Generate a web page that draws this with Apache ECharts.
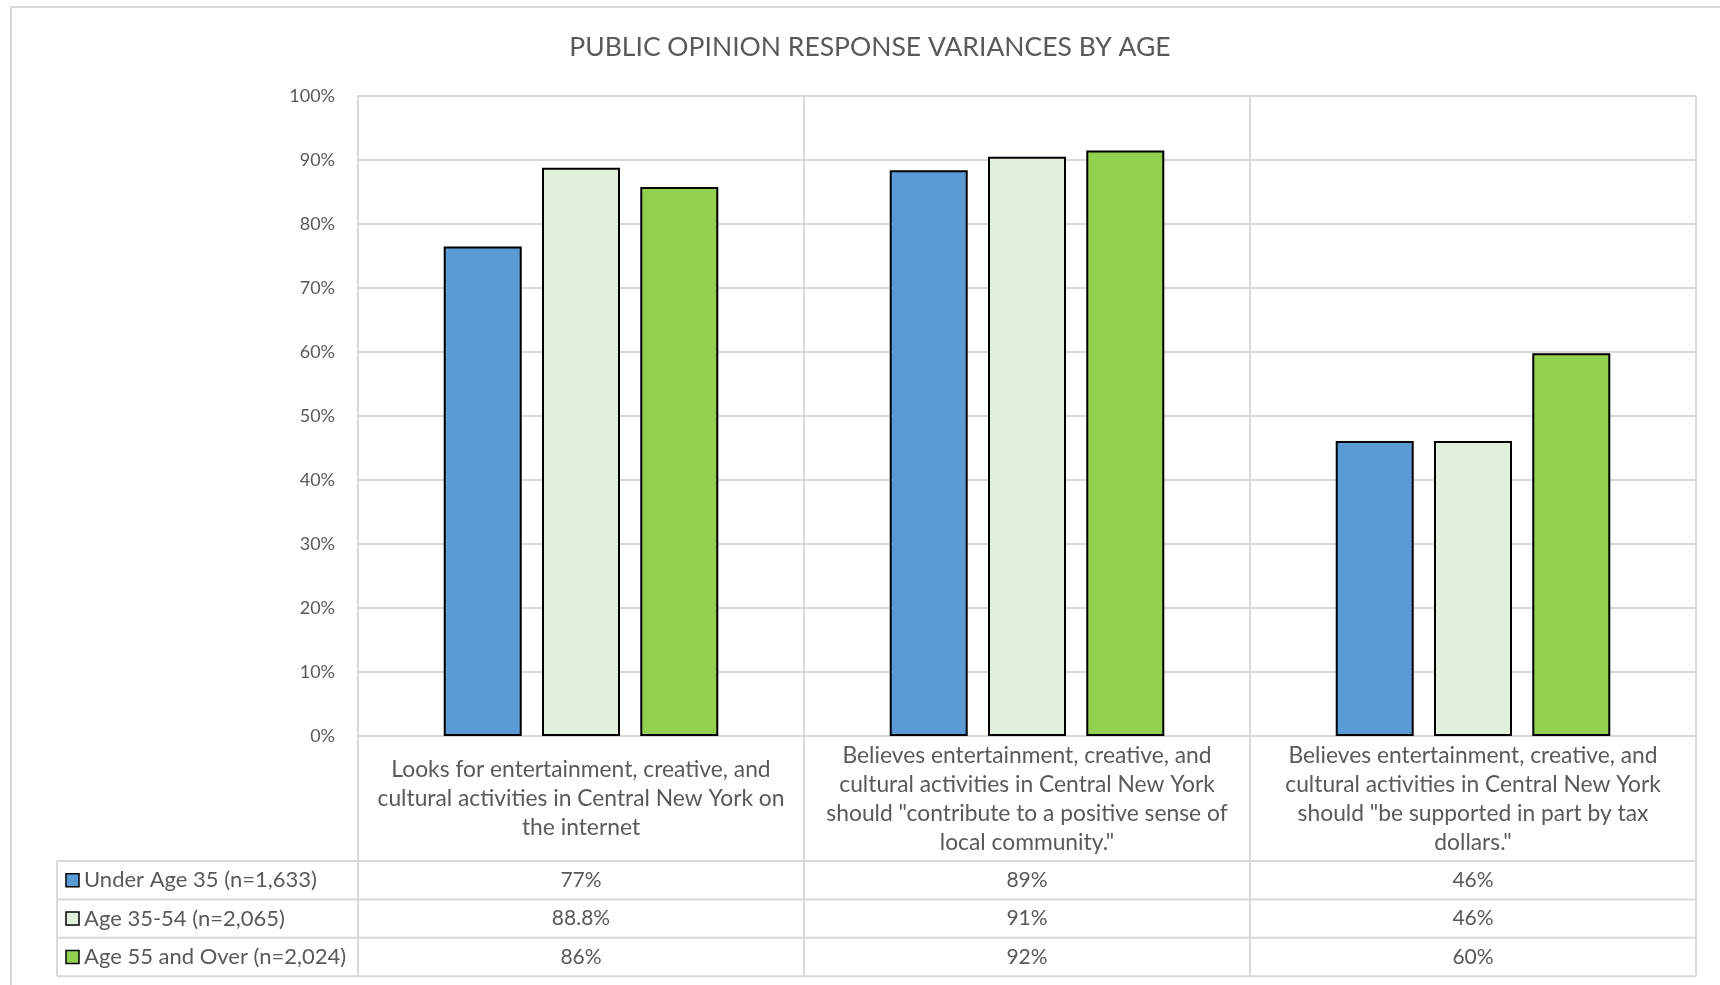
<!DOCTYPE html>
<html>
<head>
<meta charset="utf-8">
<script src="https://cdn.jsdelivr.net/npm/echarts@6/dist/echarts.min.js"></script>
<style>
html,body{margin:0;padding:0;background:#fff;}
#chart{width:1720px;height:985px;}
</style>
</head>
<body>
<div id="chart"></div>
<script>
// ---- Data ----
const titleText = 'PUBLIC OPINION RESPONSE VARIANCES BY AGE';
const categories = [
  'Looks for entertainment, creative, and\ncultural activities in Central New York on\nthe internet',
  'Believes entertainment, creative, and\ncultural activities in Central New York\nshould "contribute to a positive sense of\nlocal community."',
  'Believes entertainment, creative, and\ncultural activities in Central New York\nshould "be supported in part by tax\ndollars."'
];
const seriesNames = ['Under Age 35 (n=1,633)', 'Age 35-54 (n=2,065)', 'Age 55 and Over (n=2,024)'];
const under35 = [76.5, 88.4, 46.1];
const age35to54 = [88.8, 90.5, 46.1];
const age55plus = [85.8, 91.5, 59.8];
const tableUnder35 = ['77%', '89%', '46%'];
const table35to54 = ['88.8%', '91%', '46%'];
const table55plus = ['86%', '92%', '60%'];
const yMin = 0, yMax = 100, yInterval = 10;

// ---- Styles ----
const colors = ['#5B9BD5', '#E2EFDA', '#92D050'];
const textColor = '#595959';
const gridColor = '#d9d9d9';
const font = 'Lato, "Open Sans", sans-serif';

const seriesData = [under35, age35to54, age55plus];
const tableData = [tableUnder35, table35to54, table55plus];

const chart = echarts.init(document.getElementById('chart'));

const option = {
  animation: false,
  backgroundColor: '#fff',
  title: {
    text: titleText,
    left: 865, top: 29, textAlign: 'center',
    textStyle: { fontFamily: font, fontSize: 26.5, fontWeight: 'normal', color: textColor }
  },
  grid: { left: 358, top: 96, width: 1338, height: 640, containLabel: false },
  xAxis: {
    type: 'category',
    data: categories,
    axisLine: { show: true, lineStyle: { color: gridColor, width: 2 } },
    axisTick: { show: false },
    splitLine: { show: true, lineStyle: { color: gridColor, width: 2 } },
    axisLabel: {
      interval: 0, margin: 63, verticalAlign: 'middle',
      fontFamily: font, fontSize: 22.8, lineHeight: 29, color: textColor, align: 'center'
    }
  },
  yAxis: {
    type: 'value', min: yMin, max: yMax, interval: yInterval,
    axisLine: { show: true, lineStyle: { color: gridColor, width: 2 } },
    axisTick: { show: false },
    splitLine: { show: true, lineStyle: { color: gridColor, width: 2 } },
    axisLabel: { formatter: '{value}%', margin: 23, fontFamily: font, fontSize: 18, color: textColor }
  },
  series: seriesNames.map((name, i) => ({
    name: name,
    type: 'bar',
    data: seriesData[i],
    barWidth: 78,
    barGap: '26%',
    itemStyle: { color: colors[i], borderColor: '#000', borderWidth: 2 }
  }))
};
chart.setOption(option);

// ---- Table drawn below the plot, aligned with the chart's own scale ----
const cx = categories.map((c, i) => chart.convertToPixel({ xAxisIndex: 0 }, i));
const band = cx[1] - cx[0];
const leftEdge = cx[0] - band / 2;
const rightEdge = cx[cx.length - 1] + band / 2;
const yBottom = chart.convertToPixel({ yAxisIndex: 0 }, yMin);
const yTop = chart.convertToPixel({ yAxisIndex: 0 }, yMax);
const labelRowH = 125, rowH = 38.4;
const rowTops = [0, 1, 2, 3].map(k => yBottom + labelRowH + k * rowH);
const legendLeft = 57;

const g = [];
const lineStyle = { stroke: gridColor, lineWidth: 2 };
// outer chart border
g.push({ type: 'rect', shape: { x: 11, y: 7, width: 1760, height: 1050 }, style: { fill: 'none', stroke: gridColor, lineWidth: 2 } });
// vertical column lines through table
for (let i = 0; i <= categories.length; i++) {
  const x = leftEdge + i * band;
  g.push({ type: 'line', shape: { x1: x, y1: yTop, x2: x, y2: rowTops[3] }, style: lineStyle });
}
// legend column left line
g.push({ type: 'line', shape: { x1: legendLeft, y1: rowTops[0], x2: legendLeft, y2: rowTops[3] }, style: lineStyle });
// horizontal row lines
rowTops.forEach(y => {
  g.push({ type: 'line', shape: { x1: legendLeft, y1: y, x2: rightEdge, y2: y }, style: lineStyle });
});
// legend keys + names + values
seriesNames.forEach((name, r) => {
  const yc = rowTops[r] + rowH / 2;
  g.push({ type: 'rect', shape: { x: 66, y: yc - 6.5, width: 13, height: 13 }, style: { fill: colors[r], stroke: '#000', lineWidth: 1.5 } });
  g.push({ type: 'text', style: { text: name, x: 84, y: yc, align: 'left', verticalAlign: 'middle', fontFamily: font, fontSize: 22, fill: textColor } });
  tableData[r].forEach((t, c) => {
    g.push({ type: 'text', style: { text: t, x: cx[c], y: yc, align: 'center', verticalAlign: 'middle', fontFamily: font, fontSize: 21, fill: textColor } });
  });
});
chart.setOption({ graphic: g });
</script>
</body>
</html>
